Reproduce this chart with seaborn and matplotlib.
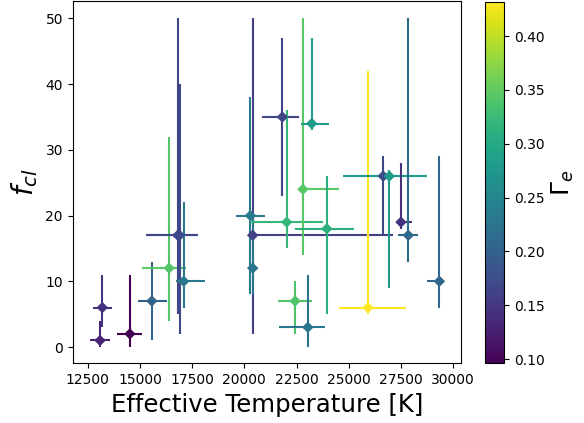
import numpy as np
import matplotlib
matplotlib.use('Agg')
import matplotlib.pyplot as plt
import seaborn as sns
import pandas as pd
from matplotlib.colors import Normalize
from matplotlib.cm import ScalarMappable

# Effective temperature [K]
teff = [13090, 13200, 14520, 15570, 16400, 16810, 16900, 17100, 20290, 20400,
        20400, 21820, 22030, 22810, 23950, 23230, 22430, 23040, 25920, 26650,
        26940, 27500, 27850, 29340]
teff_lo = [460, 450, 600, 640, 1290, 1510, 1500, 370, 690, 230,
           200, 990, 1750, 220, 1500, 510, 800, 1400, 1390, 240,
           2200, 200, 480, 600]
teff_hi = [460, 450, 560, 750, 800, 980, 900, 1000, 690, 6700,
           200, 800, 1750, 1720, 1300, 810, 800, 800, 1800, 1300,
           1790, 510, 480, 190]
# clumping factor
fcl = [1, 6, 2, 7, 12, 17, 17, 10, 20, 17,
       12, 35, 19, 24, 18, 34, 7, 3, 6, 26,
       26, 19, 17, 10]
fcl_lo = [1, 3, 2, 6, 8, 12, 15, 4, 12, 15,
          4, 12, 4, 10, 13, 1, 5, 3, 1, 9,
          17, 1, 4, 4]
fcl_hi = [3, 5, 9, 6, 20, 33, 23, 12, 18, 33,
          8, 12, 17, 26, 8, 13, 3, 8, 36, 3,
          1, 9, 33, 19]
# Eddington factor
gamma_e = [0.13, 0.145, 0.096, 0.20, 0.342, 0.165, 0.17, 0.23, 0.235, 0.16,
           0.225, 0.165, 0.32, 0.345, 0.31, 0.28, 0.34, 0.225, 0.432, 0.17,
           0.28, 0.145, 0.21, 0.205]

df = pd.DataFrame({'teff': teff, 'fcl': fcl, 'gamma': gamma_e})

fig = plt.figure(figsize=(5.84, 4.23), dpi=100)
ax = fig.add_axes([0.1245, 0.1411, 0.665, 0.8558])
cax = fig.add_axes([0.8305, 0.1411, 0.0325, 0.855])

norm = Normalize(vmin=min(gamma_e), vmax=max(gamma_e))
cmap = plt.get_cmap('viridis')

for t, f, tl, th, fl, fh, g in zip(teff, fcl, teff_lo, teff_hi, fcl_lo, fcl_hi, gamma_e):
    ax.errorbar(t, f, xerr=[[tl], [th]], yerr=[[fl], [fh]], fmt='none',
                ecolor=cmap(norm(g)), elinewidth=1.5, zorder=2)

sns.scatterplot(data=df, x='teff', y='fcl', hue='gamma', palette='viridis',
                hue_norm=norm, marker='D', s=34, linewidth=0, legend=False,
                ax=ax, zorder=3)

ax.set_xlim(11782, 30378)
ax.set_ylim(-2.48, 52.6)
ax.set_xlabel('Effective Temperature [K]', fontsize=17.6)
ax.set_ylabel(r'$f_{cl}$', fontsize=20)

sm = ScalarMappable(norm=norm, cmap=cmap)
sm.set_array([])
cb = fig.colorbar(sm, cax=cax)
cb.set_label(r'$\Gamma_e$', fontsize=18)

fig.savefig('out.png', dpi=100)
